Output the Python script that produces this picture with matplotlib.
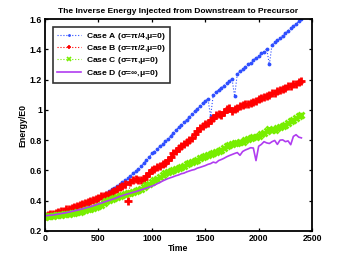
import numpy as np
import matplotlib
matplotlib.use('Agg')
import matplotlib.pyplot as plt

plt.rcParams['font.family'] = ['Liberation Sans', 'DejaVu Sans']
plt.rcParams['font.weight'] = 'bold'
plt.rcParams['mathtext.default'] = 'regular'

# sample times (every 25 time units)
time = np.arange(0, 2401, 25)

case_a = [0.300, 0.304, 0.309, 0.312, 0.318, 0.323, 0.327, 0.334, 0.339, 0.344,
          0.351, 0.356, 0.362, 0.369, 0.374, 0.380, 0.388, 0.396, 0.402, 0.409,
          0.418, 0.429, 0.440, 0.451, 0.463, 0.475, 0.486, 0.496, 0.509, 0.523,
          0.535, 0.548, 0.563, 0.581, 0.596, 0.611, 0.630, 0.649, 0.668, 0.689,
          0.712, 0.725, 0.743, 0.759, 0.775, 0.796, 0.810, 0.827, 0.850, 0.866,
          0.885, 0.899, 0.918, 0.936, 0.951, 0.971, 0.990, 1.005, 1.025, 1.046,
          1.058, 1.074, 0.957, 1.101, 1.117, 1.131, 1.147, 1.161, 1.178, 1.191,
          1.207, 1.090, 1.240, 1.254, 1.269, 1.284, 1.301, 1.311, 1.329, 1.342,
          1.356, 1.373, 1.384, 1.403, 1.300, 1.431, 1.447, 1.463, 1.477, 1.491,
          1.507, 1.523, 1.539, 1.553, 1.569, 1.586, 1.600]

case_b = [0.300, 0.305, 0.309, 0.315, 0.319, 0.325, 0.330, 0.335, 0.342, 0.346,
          0.353, 0.359, 0.364, 0.371, 0.376, 0.383, 0.390, 0.396, 0.406, 0.411,
          0.420, 0.429, 0.433, 0.441, 0.447, 0.456, 0.466, 0.477, 0.489, 0.494,
          0.511, 0.395, 0.525, 0.536, 0.546, 0.537, 0.534, 0.546, 0.565, 0.586,
          0.602, 0.611, 0.623, 0.631, 0.641, 0.649, 0.669, 0.689, 0.713, 0.729,
          0.749, 0.759, 0.776, 0.789, 0.801, 0.814, 0.841, 0.861, 0.881, 0.894,
          0.906, 0.914, 0.931, 0.949, 0.969, 0.974, 0.964, 0.986, 1.006, 1.011,
          0.994, 1.006, 1.014, 1.023, 1.029, 1.036, 1.039, 1.046, 1.049, 1.061,
          1.069, 1.079, 1.084, 1.091, 1.097, 1.109, 1.114, 1.126, 1.131, 1.139,
          1.144, 1.156, 1.161, 1.169, 1.174, 1.186, 1.192]

case_c = [0.295, 0.297, 0.299, 0.301, 0.303, 0.305, 0.307, 0.310, 0.312, 0.314,
          0.317, 0.320, 0.324, 0.328, 0.332, 0.337, 0.342, 0.348, 0.354, 0.360,
          0.367, 0.374, 0.383, 0.395, 0.405, 0.412, 0.418, 0.424, 0.430, 0.436,
          0.442, 0.448, 0.452, 0.458, 0.465, 0.472, 0.480, 0.490, 0.502, 0.512,
          0.522, 0.535, 0.545, 0.555, 0.568, 0.580, 0.590, 0.598, 0.605, 0.612,
          0.618, 0.625, 0.632, 0.640, 0.648, 0.655, 0.662, 0.670, 0.680, 0.690,
          0.695, 0.700, 0.708, 0.715, 0.722, 0.730, 0.738, 0.745, 0.760, 0.770,
          0.772, 0.778, 0.782, 0.785, 0.790, 0.798, 0.805, 0.812, 0.818, 0.822,
          0.830, 0.840, 0.850, 0.862, 0.872, 0.870, 0.865, 0.878, 0.888, 0.892,
          0.900, 0.912, 0.925, 0.935, 0.948, 0.958, 0.968]

case_d = [0.300, 0.302, 0.304, 0.306, 0.309, 0.312, 0.315, 0.318, 0.321, 0.325,
          0.329, 0.333, 0.337, 0.341, 0.346, 0.351, 0.356, 0.361, 0.366, 0.372,
          0.378, 0.384, 0.390, 0.396, 0.402, 0.408, 0.414, 0.421, 0.428, 0.434,
          0.440, 0.445, 0.450, 0.455, 0.460, 0.466, 0.472, 0.478, 0.484, 0.490,
          0.496, 0.503, 0.512, 0.520, 0.530, 0.538, 0.546, 0.552, 0.558, 0.565,
          0.570, 0.578, 0.582, 0.590, 0.596, 0.602, 0.606, 0.615, 0.620, 0.626,
          0.632, 0.640, 0.645, 0.655, 0.650, 0.665, 0.672, 0.680, 0.690, 0.698,
          0.705, 0.712, 0.718, 0.700, 0.725, 0.735, 0.742, 0.750, 0.748, 0.665,
          0.760, 0.772, 0.790, 0.782, 0.778, 0.790, 0.798, 0.772, 0.800, 0.802,
          0.790, 0.795, 0.770, 0.825, 0.836, 0.820, 0.815]

labels = [r'Case A ($\sigma$=$\pi$/4,$\mu$=0)',
          r'Case B ($\sigma$=$\pi$/2,$\mu$=0)',
          r'Case C ($\sigma$=$\pi$,$\mu$=0)',
          r'Case D ($\sigma$=$\infty$,$\mu$=0)']

fig = plt.figure(figsize=(3.46, 2.61), dpi=100)
ax = fig.add_axes([0.130, 0.115, 0.772, 0.812])

ax.plot(time, case_a, ':', color='#3050ff', marker='.', markersize=3.5,
        linewidth=0.8, label=labels[0])
ax.plot(time, case_b, ':', color='#ff0000', marker='+', markersize=6,
        markeredgewidth=2.0, linewidth=0.8, label=labels[1])
ax.plot(time, case_c, ':', color='#77ee00', marker='x', markersize=4.5,
        markeredgewidth=2.0, linewidth=0.8, label=labels[2])
ax.plot(time, case_d, '-', color='#b03cf0', linewidth=1.2, label=labels[3])

ax.set_xlim(0, 2500)
ax.set_ylim(0.2, 1.6)
ax.set_xticks([0, 500, 1000, 1500, 2000, 2500])
ax.set_yticks([0.2, 0.4, 0.6, 0.8, 1.0, 1.2, 1.4, 1.6])
ax.set_yticklabels(['0.2', '0.4', '0.6', '0.8', '1', '1.2', '1.4', '1.6'])
ax.tick_params(direction='in', top=True, right=True, labelsize=6.3,
               length=2.5, width=0.9, pad=2)
for s in ax.spines.values():
    s.set_linewidth(1.3)

ax.set_title('The Inverse Energy Injected from Downstream to Precursor',
             fontsize=6.0, fontweight='bold', pad=4)
ax.set_xlabel('Time', fontsize=6.3, fontweight='bold', labelpad=1)
ax.set_ylabel('Energy/E0', fontsize=6.3, fontweight='bold', labelpad=2)

leg = ax.legend(loc='upper left', bbox_to_anchor=(0.03, 0.962), fontsize=6.1,
                frameon=True, fancybox=False, edgecolor='black',
                handlelength=2.9, borderpad=0.45, labelspacing=0.15,
                handletextpad=0.5, borderaxespad=0, markerscale=0.6)
leg.get_frame().set_linewidth(1.2)
for h in leg.get_lines()[1:3]:
    h.set_markeredgewidth(1.2)

fig.savefig('out.png', dpi=100)
